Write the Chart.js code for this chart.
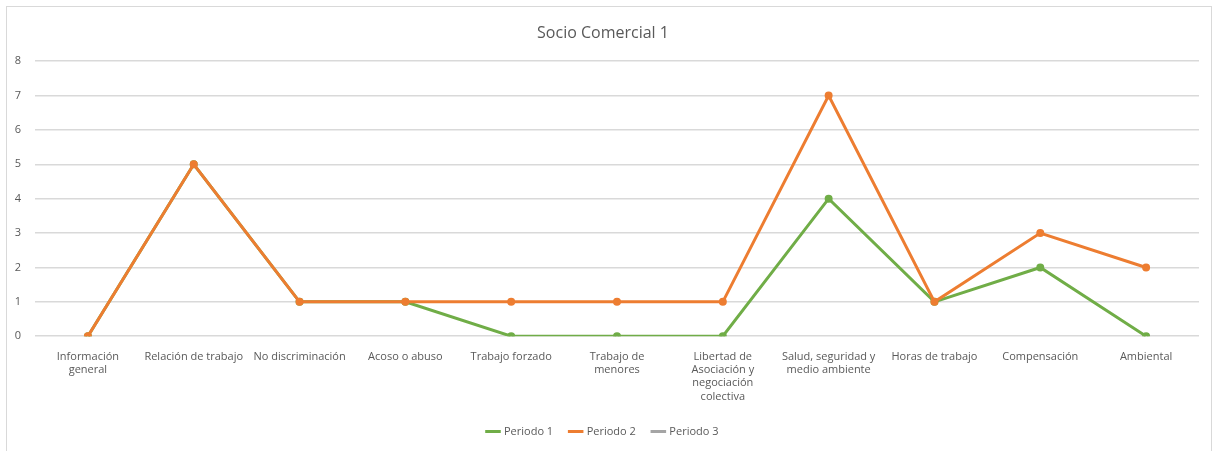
<!DOCTYPE html>
<html>
<head>
<meta charset="utf-8">
<script src="https://cdn.jsdelivr.net/npm/chart.js@4/dist/chart.umd.min.js"></script>
<style>
  body { margin: 0; background: #fff; }
  #wrap {
    position: absolute; left: 6px; top: 6px;
    width: 1204px; height: 450px;
    border: 1px solid #d9d9d9; background: #fff;
  }
</style>
</head>
<body>
<div id="wrap"><canvas id="myChart"></canvas></div>
<script>
// chart data
const categories = [
    ['Información', 'general'],
    'Relación de trabajo',
    'No discriminación',
    'Acoso o abuso',
    'Trabajo forzado',
    ['Trabajo de', 'menores'],
    ['Libertad de', 'Asociación y', 'negociación', 'colectiva'],
    ['Salud, seguridad y', 'medio ambiente'],
    'Horas de trabajo',
    'Compensación',
    'Ambiental'
];
const periodo1 = [0, 5, 1, 1, 0, 0, 0, 4, 1, 2, 0];
const periodo2 = [0, 5, 1, 1, 1, 1, 1, 7, 1, 3, 2];
const periodo3 = [null, null, null, null, null, null, null, null, null, null, null];
const yTicks = [0, 1, 2, 3, 4, 5, 6, 7, 8];

const font = "'Open Sans', 'Liberation Sans', sans-serif";

const data = {
    labels: categories,
    datasets: [{
        label: 'Periodo 1',
        data: periodo1,
        borderColor: '#70ad47',
        backgroundColor: '#70ad47',
        borderWidth: 3,
        pointRadius: 2.5,
        order: 2
    }, {
        label: 'Periodo 2',
        data: periodo2,
        borderColor: '#ed7d31',
        backgroundColor: '#ed7d31',
        borderWidth: 3,
        pointRadius: 2.5,
        order: 1
    }, {
        label: 'Periodo 3',
        data: periodo3,
        borderColor: '#a5a5a5',
        backgroundColor: '#a5a5a5',
        borderWidth: 3,
        pointRadius: 2.5,
        order: 0
    }]
};

const config = {
    type: 'line',
    data: data,
    options: {
        responsive: true,
        maintainAspectRatio: false,
        animation: false,
        layout: { padding: { left: 0, right: 12, top: 15, bottom: 10 } },
        plugins: {
            title: {
                display: true,
                text: 'Socio Comercial 1',
                color: '#595959',
                font: { family: font, size: 16, weight: 'normal' },
                padding: { top: 2, bottom: 18 }
            },
            legend: {
                position: 'bottom',
                labels: {
                    color: '#595959',
                    font: { family: font, size: 11 },
                    usePointStyle: true,
                    pointStyle: 'line',
                    boxWidth: 30,
                    padding: 17,
                    sort: (a, b) => a.datasetIndex - b.datasetIndex
                }
            },
            tooltip: { enabled: false }
        },
        scales: {
            x: {
                offset: true,
                grid: { display: false },
                border: { display: false },
                ticks: {
                    color: '#595959',
                    font: { family: font, size: 11 },
                    maxRotation: 0,
                    autoSkip: false,
                    padding: 6
                }
            },
            y: {
                min: 0,
                max: 8,
                afterFit: (axis) => { axis.width = 28; },
                afterBuildTicks: (axis) => { axis.ticks = yTicks.map(v => ({ value: v })); },
                grid: { color: '#d9d9d9', lineWidth: 1.5, drawTicks: false },
                border: { display: false },
                ticks: {
                    color: '#595959',
                    font: { family: font, size: 11 },
                    padding: 14
                }
            }
        }
    }
};

// eslint-disable-next-line
const myChart = new Chart(document.getElementById('myChart'), config);
</script>
</body>
</html>
